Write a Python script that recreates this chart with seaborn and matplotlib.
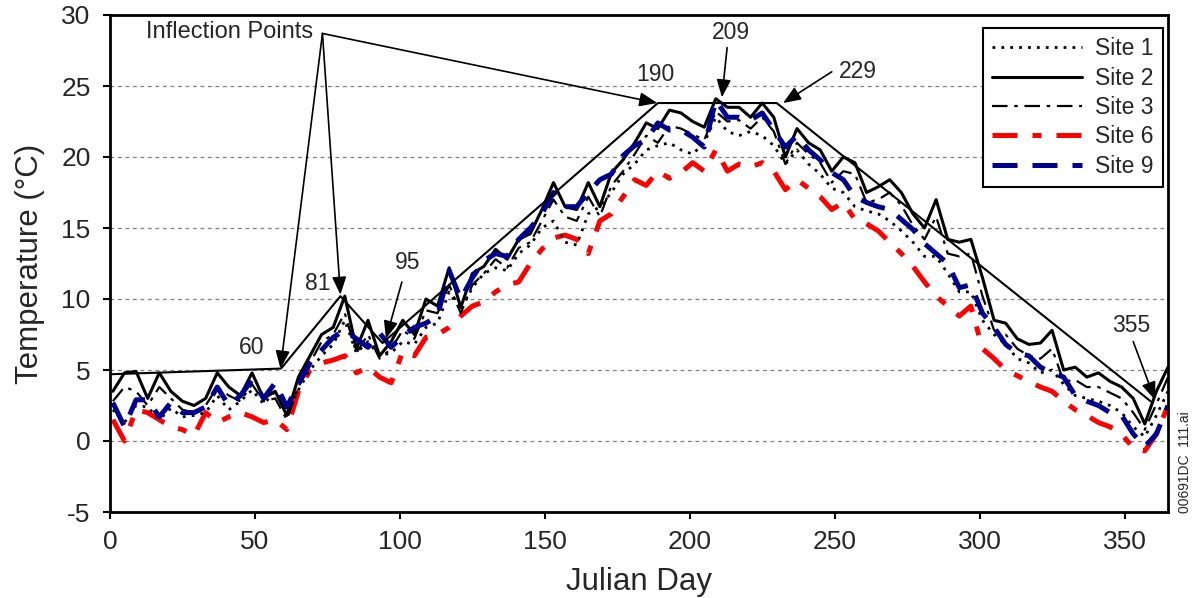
import numpy as np
import pandas as pd
import matplotlib
matplotlib.use("Agg")
import matplotlib.pyplot as plt
import seaborn as sns

# ---------------- data ----------------
days = np.arange(1, 366, 4)  # Julian day of each reading

site1 = [
    2.2, 1.3, 2.5, 2.4, 1.5, 2.3, 1.7, 1.8, 2.0, 3.2,
    2.2, 2.8, 3.6, 2.6, 3.5, 2.0, 3.6, 5.0, 6.0, 6.8,
    8.5, 6.2, 7.0, 6.0, 6.2, 7.0, 6.8, 8.0, 8.3, 10.5,
    9.2, 10.8, 11.8, 12.2, 12.0, 13.2, 13.8, 15.0, 15.5, 14.0,
    13.8, 16.0, 16.5, 17.5, 18.8, 19.5, 20.5, 20.8, 21.0, 20.5,
    20.2, 21.0, 22.8, 21.8, 21.5, 21.8, 21.5, 20.8, 19.5, 20.5,
    19.5, 18.8, 17.8, 17.5, 16.5, 16.2, 16.0, 15.5, 14.8, 14.0,
    13.0, 13.0, 11.8, 10.5, 10.5, 8.5, 7.5, 6.8, 5.8, 5.5,
    4.8, 5.0, 4.0, 3.2, 3.0, 2.8, 2.5, 2.0, 1.0, 0.3,
    1.8, 3.5]

site2 = [
    3.5, 4.8, 4.9, 3.0, 4.8, 3.5, 2.8, 2.5, 3.0, 4.8,
    3.8, 3.2, 4.8, 3.0, 3.5, 1.8, 4.5, 6.0, 7.5, 8.0,
    10.2, 6.5, 8.5, 6.0, 7.0, 8.5, 7.5, 10.0, 9.5, 12.2,
    9.4, 11.8, 12.3, 13.5, 12.8, 14.2, 14.6, 16.3, 18.2, 16.5,
    16.3, 18.2, 16.5, 18.9, 19.8, 21.0, 22.4, 22.0, 23.3, 23.1,
    22.5, 22.1, 24.1, 23.5, 23.5, 22.8, 23.8, 22.8, 20.0, 22.0,
    21.0, 20.5, 19.0, 20.0, 19.6, 17.5, 17.9, 18.4, 17.5, 16.0,
    15.0, 17.0, 14.2, 14.0, 14.2, 11.5, 8.5, 8.3, 7.2, 6.8,
    6.9, 7.8, 5.0, 5.2, 4.5, 4.8, 4.2, 3.8, 3.0, 1.2,
    3.5, 5.2]

site3 = [
    2.8, 3.8, 3.5, 2.5, 3.8, 3.0, 2.2, 2.0, 2.5, 3.8,
    3.2, 2.8, 4.0, 2.8, 3.0, 1.5, 3.8, 5.5, 7.0, 7.5,
    9.0, 6.2, 7.5, 5.8, 6.5, 7.8, 7.2, 9.2, 9.0, 11.0,
    9.0, 11.0, 11.8, 12.8, 12.2, 13.6, 14.0, 15.5, 17.0, 15.8,
    15.5, 17.2, 15.8, 18.0, 19.0, 20.2, 21.5, 21.0, 22.2, 22.0,
    21.6, 21.2, 23.2, 22.5, 22.6, 22.0, 22.8, 21.8, 19.5, 21.0,
    20.2, 19.6, 18.2, 19.0, 18.8, 16.8, 17.0, 17.5, 16.6, 15.2,
    14.2, 15.8, 13.2, 13.0, 13.2, 10.2, 7.8, 7.5, 6.5, 6.0,
    5.8, 6.5, 4.2, 4.3, 3.8, 3.8, 3.4, 3.0, 2.0, 0.8,
    2.6, 4.5]

site6 = [
    1.5, 0.0, 2.2, 2.0, 1.5, 1.0, 0.8, 0.4, 2.0, 1.3,
    1.7, 2.0, 1.7, 1.3, 1.5, 0.8, 3.5, 5.0, 5.5, 5.7,
    6.0, 4.8, 5.2, 4.5, 4.1, 6.3, 6.0, 7.3, 7.5, 8.0,
    8.8, 9.5, 9.8, 10.5, 11.0, 11.2, 12.5, 13.5, 14.3, 14.5,
    14.2, 13.2, 15.5, 16.0, 17.2, 18.4, 18.0, 19.0, 18.5, 18.9,
    19.6, 19.0, 20.5, 19.0, 19.5, 19.3, 19.6, 19.0, 17.7, 18.4,
    17.8, 17.2, 16.3, 16.8, 15.6, 15.3, 14.8, 14.0, 13.2, 12.3,
    11.2, 10.2, 9.5, 8.8, 9.5, 6.5, 5.8, 5.0, 4.6, 4.2,
    3.8, 3.5, 2.8, 2.2, 1.8, 1.3, 1.0, 0.5, -0.5, -0.7,
    0.5, 2.5]

site9 = [
    2.7, 1.0, 2.9, 2.9, 1.7, 2.7, 2.0, 2.0, 2.4, 3.8,
    2.5, 3.2, 4.3, 3.0, 4.1, 2.4, 4.0, 5.5, 6.4, 7.3,
    7.8, 7.2, 6.6, 7.6, 6.6, 7.4, 8.0, 8.3, 8.8, 12.0,
    10.0, 11.5, 12.7, 13.2, 13.0, 14.2, 15.0, 16.0, 17.5, 16.5,
    16.5, 17.5, 18.4, 18.8, 20.1, 20.8, 21.2, 22.4, 21.9, 21.9,
    21.4, 20.7, 24.0, 22.8, 22.8, 22.6, 23.1, 21.9, 20.7, 21.5,
    20.5, 19.8, 18.9, 18.4, 17.2, 16.8, 16.5, 16.3, 15.6, 14.9,
    13.9, 13.2, 12.5, 10.8, 11.0, 9.0, 8.0, 6.8, 6.2, 6.0,
    5.2, 4.8, 4.5, 3.2, 2.8, 2.5, 2.0, 1.8, 0.5, -0.4,
    0.5, 2.5]

site_labels = ["Site 1", "Site 2", "Site 3", "Site 6", "Site 9"]

# inflection-point envelope
infl_days = [0, 59, 79.5, 94, 189, 230, 359]
infl_vals = [4.7, 5.1, 10.2, 6.9, 23.8, 23.8, 2.8]

x_ticks = [0, 50, 100, 150, 200, 250, 300, 350]
y_ticks = [-5, 0, 5, 10, 15, 20, 25, 30]

# ---------------- styling ----------------
sns.set_theme(style="white")
plt.rcParams["font.family"] = ["Liberation Sans", "DejaVu Sans"]
plt.rcParams["axes.unicode_minus"] = False

fig = plt.figure(figsize=(11.96, 5.98), dpi=100)
ax = fig.add_axes([110 / 1196, 86 / 598, 1058 / 1196, 497 / 598])

series = {
    "Site 1": dict(data=site1, color="black", lw=2.0, dashes=(1.0, 2.2)),
    "Site 2": dict(data=site2, color="black", lw=2.2, dashes=None),
    "Site 3": dict(data=site3, color="black", lw=1.6, dashes=(7.0, 3.0, 1.6, 3.0)),
    "Site 6": dict(data=site6, color="#ff0000", lw=3.6, dashes=(5.0, 3.0, 1.8, 3.0)),
    "Site 9": dict(data=site9, color="#000090", lw=3.6, dashes=(5.0, 3.0)),
}

draw_order = ["Site 6", "Site 1", "Site 3", "Site 2", "Site 9"]
handles = {}
for name in draw_order:
    s = series[name]
    df = pd.DataFrame({"day": days, "temp": s["data"]})
    n_before = len(ax.lines)
    sns.lineplot(data=df, x="day", y="temp", ax=ax, color=s["color"],
                 linewidth=s["lw"], legend=False, errorbar=None)
    line = ax.lines[n_before]
    if s["dashes"] is not None:
        line.set_dashes(s["dashes"])
    handles[name] = line

# inflection envelope
infl_df = pd.DataFrame({"day": infl_days, "temp": infl_vals})
sns.lineplot(data=infl_df, x="day", y="temp", ax=ax, color="black",
             linewidth=1.5, legend=False, errorbar=None, sort=False)

ax.set_xlim(0, 365)
ax.set_ylim(-5, 30)
ax.set_xticks(x_ticks)
ax.set_yticks(y_ticks)
ax.tick_params(axis="both", which="major", labelsize=19, bottom=True, left=True,
               direction="out", length=5, width=1.5, color="black")
ax.tick_params(axis="x", pad=8)
ax.tick_params(axis="y", pad=9)
ax.set_xlabel("Julian Day", fontsize=22.5, labelpad=9)
ax.set_ylabel("Temperature (°C)", fontsize=22.5, labelpad=12)

ax.yaxis.grid(True, linestyle=(0, (3, 3)), color="#808080", linewidth=0.9)
ax.xaxis.grid(False)
ax.set_axisbelow(True)
for sp in ax.spines.values():
    sp.set_color("black")
    sp.set_linewidth(2.0)

# legend
leg = ax.legend([handles[n] for n in site_labels], site_labels,
                loc="upper right", bbox_to_anchor=(0.9953, 0.9738),
                borderaxespad=0, fontsize=16.5, handlelength=3.9,
                handletextpad=0.6, labelspacing=0.28, borderpad=0.4,
                fancybox=False, framealpha=1, edgecolor="black")
leg.get_frame().set_linewidth(1.5)

# annotations
arrow_kw = dict(arrowstyle="-|>,head_length=0.9,head_width=0.36",
                mutation_scale=12, color="black", lw=1.2,
                shrinkA=0, shrinkB=0)

ax.text(41.4, 28.8, "Inflection Points", fontsize=17, ha="center", va="center")
origin = (73.3, 28.7)
for tip in [(58.8, 5.1), (79.5, 10.3), (188.8, 23.8)]:
    ax.annotate("", xy=tip, xytext=origin, arrowprops=arrow_kw)

label_pos = {
    "60": (48.9, 6.6),
    "81": (71.8, 11.1),
    "95": (102.8, 12.6),
    "190": (188.0, 25.8),
    "209": (214.2, 28.8),
    "229": (258.0, 26.0),
    "355": (352.2, 8.1),
}
for txt, (xx, yy) in label_pos.items():
    ax.text(xx, yy, txt, fontsize=16.5, ha="center", va="center")

for tail, tip in [((100.7, 11.2), (95.2, 7.2)),
                  ((212.9, 27.7), (211.1, 24.2)),
                  ((249.0, 26.0), (232.2, 23.8)),
                  ((353.0, 7.0), (360.5, 2.9))]:
    ax.annotate("", xy=tip, xytext=tail, arrowprops=arrow_kw)

fig.text(0.991, 0.227, "00691DC  111.ai", rotation=90, fontsize=10,
         ha="center", va="center")

fig.savefig("out.png", dpi=100)
